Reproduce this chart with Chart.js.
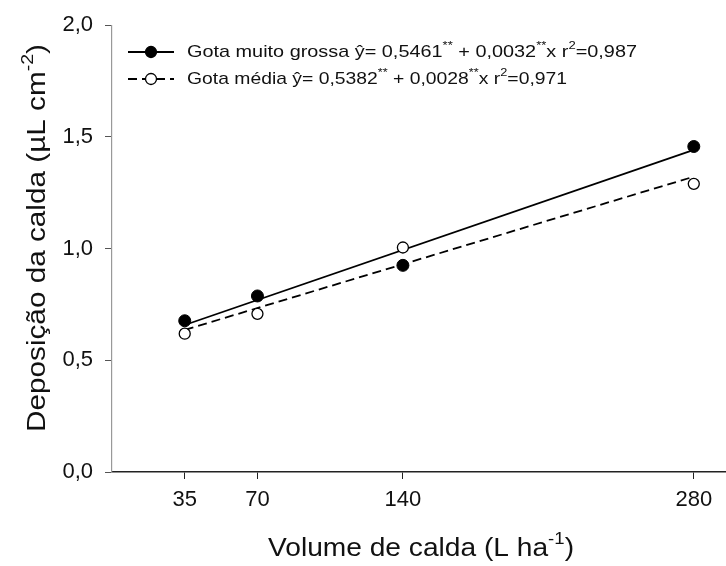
<!DOCTYPE html>
<html>
<head>
<meta charset="utf-8">
<script src="https://cdn.jsdelivr.net/npm/chart.js@4.4.1/dist/chart.umd.min.js"></script>
<style>
  html, body { margin: 0; padding: 0; background: #fff; }
</style>
</head>
<body>
<canvas id="myChart" width="726" height="566"></canvas>
<script>
const volumes = [35, 70, 140, 280];
const grossa = [0.677, 0.788, 0.925, 1.457];   // Gota muito grossa (filled)
const media = [0.619, 0.708, 1.005, 1.29];     // Gota média (open)
const fitX = [35, 280];
const fitGrossa = [0.658, 1.442];
const fitMedia = [0.636, 1.322];
const xTicks = [35, 70, 140, 280];
const yTicks = [0, 0.5, 1.0, 1.5, 2.0];

const FONT = "'Liberation Sans', Arial, sans-serif";

function pts(xs, ys) {
    return xs.map((x, i) => ({ x: x, y: ys[i] }));
}

// text with superscript pieces
function drawRich(ctx, parts, x, y, size) {
    parts.forEach(p => {
        const s = p.sup ? size * 0.66 : size;
        ctx.font = s + "px " + FONT;
        ctx.fillText(p.t, x, p.sup ? y - size * 0.36 : y);
        x += ctx.measureText(p.t).width;
    });
    return x;
}
function richWidth(ctx, parts, size) {
    let w = 0;
    parts.forEach(p => {
        ctx.font = (p.sup ? size * 0.66 : size) + "px " + FONT;
        w += ctx.measureText(p.t).width;
    });
    return w;
}
// draw rich text stretched to a given width, starting at x
function drawFitted(ctx, parts, x, y, size, width) {
    const w = richWidth(ctx, parts, size);
    ctx.save();
    ctx.translate(x, y);
    ctx.scale(width / w, 1);
    drawRich(ctx, parts, 0, 0, size);
    ctx.restore();
}

const legendRows = [
    { dash: [], fill: '#000', width: 450, parts: [
        { t: 'Gota muito grossa ŷ= 0,5461' }, { t: '**', sup: true }, { t: ' + 0,0032' },
        { t: '**', sup: true }, { t: 'x r' }, { t: '2', sup: true }, { t: '=0,987' }] },
    { dash: [9, 5], fill: '#fff', width: 380, parts: [
        { t: 'Gota média ŷ= 0,5382' }, { t: '**', sup: true }, { t: ' + 0,0028' },
        { t: '**', sup: true }, { t: 'x r' }, { t: '2', sup: true }, { t: '=0,971' }] }
];

const extras = {
    id: 'extras',
    afterDraw(chart) {
        const ctx = chart.ctx;
        ctx.save();
        ctx.fillStyle = '#111';
        ctx.textBaseline = 'middle';

        // x title
        const xParts = [{ t: 'Volume de calda (L ha' }, { t: '-1', sup: true }, { t: ')' }];
        drawFitted(ctx, xParts, 421 - 153, 549, 26, 306);

        // y title
        const yParts = [{ t: 'Deposição da calda (µL cm' }, { t: '-2', sup: true }, { t: ')' }];
        ctx.save();
        ctx.translate(38, 238);
        ctx.rotate(-Math.PI / 2);
        drawFitted(ctx, yParts, -194, 0, 26, 388);
        ctx.restore();

        // legend
        legendRows.forEach((row, i) => {
            const y = 52 + i * 27;
            ctx.strokeStyle = '#000';
            ctx.lineWidth = 1.8;
            ctx.setLineDash(row.dash);
            ctx.beginPath();
            ctx.moveTo(128, y);
            ctx.lineTo(174, y);
            ctx.stroke();
            ctx.setLineDash([]);
            ctx.beginPath();
            ctx.arc(151, y, 5.5, 0, Math.PI * 2);
            ctx.fillStyle = row.fill;
            ctx.fill();
            ctx.lineWidth = 1.3;
            ctx.stroke();
            ctx.fillStyle = '#111';
            drawFitted(ctx, row.parts, 187, y, 17, row.width);
        });
        ctx.restore();
    }
};

const ctx = document.getElementById('myChart').getContext('2d');

new Chart(ctx, {
    type: 'scatter',
    data: {
        datasets: [
            {
                label: 'Gota muito grossa',
                data: pts(volumes, grossa),
                pointRadius: 6,
                pointBackgroundColor: '#000',
                pointBorderColor: '#000',
                pointBorderWidth: 1,
                order: 1
            },
            {
                label: 'Gota média',
                data: pts(volumes, media),
                pointRadius: 5.5,
                pointBackgroundColor: '#fff',
                pointBorderColor: '#000',
                pointBorderWidth: 1.3,
                order: 0
            },
            {
                label: 'fit grossa',
                data: pts(fitX, fitGrossa),
                showLine: true,
                borderColor: '#000',
                borderWidth: 1.8,
                pointRadius: 0,
                order: 3
            },
            {
                label: 'fit media',
                data: pts(fitX, fitMedia),
                showLine: true,
                borderColor: '#000',
                borderWidth: 1.8,
                borderDash: [9, 5],
                pointRadius: 0,
                order: 2
            }
        ]
    },
    options: {
        responsive: false,
        animation: false,
        layout: { autoPadding: false, padding: { top: 23, left: 0, right: 0, bottom: 0 } },
        plugins: {
            legend: { display: false },
            tooltip: { enabled: false }
        },
        scales: {
            x: {
                type: 'linear',
                min: 0,
                max: 295.5,
                afterBuildTicks: s => { s.ticks = xTicks.map(v => ({ value: v })); },
                afterFit: s => { s.height = 94; s.paddingRight = 0; s.paddingLeft = 0; },
                grid: { drawOnChartArea: false, drawTicks: true, tickLength: 7, color: '#222' },
                border: { color: '#222', width: 1.5 },
                ticks: {
                    color: '#111',
                    padding: 8,
                    font: { family: FONT, size: 22 }
                }
            },
            y: {
                min: 0,
                max: 2,
                afterBuildTicks: s => { s.ticks = yTicks.map(v => ({ value: v })); },
                afterFit: s => { s.width = 112; },
                grid: { drawOnChartArea: false, drawTicks: true, tickLength: 7, color: '#555' },
                border: { color: '#999', width: 1.2 },
                ticks: {
                    color: '#111',
                    padding: 12,
                    font: { family: FONT, size: 22 },
                    callback: v => v.toFixed(1).replace('.', ',')
                }
            }
        }
    },
    plugins: [extras]
});
</script>
</body>
</html>
